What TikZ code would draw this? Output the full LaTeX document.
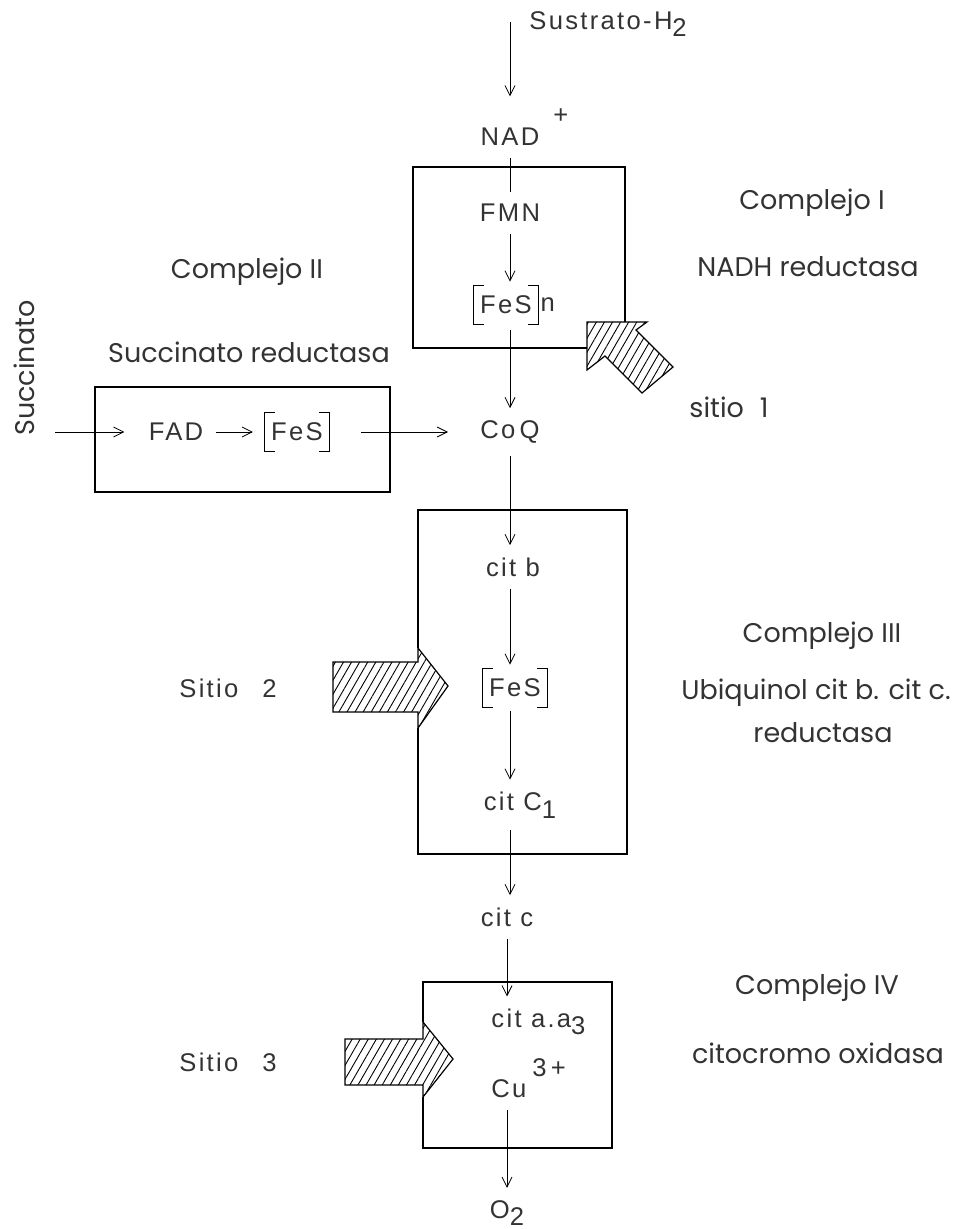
\documentclass[tikz,border=0pt]{standalone}
\usepackage{fontspec}
\setmainfont{Poppins}
\newfontfamily\lettering[LetterSpace=9]{Liberation Sans}
\usetikzlibrary{arrows.meta,patterns.meta}

\newcommand*{\colx}{510}
\newcommand*{\lowidx}[1]{\raisebox{-0.55ex}{#1}}
\newcommand*{\highidx}[1]{\rlap{\raisebox{1.6ex}{#1}}}
\newcommand*{\fesbrackets}[1]{%
	\draw[thin] ([xshift=5pt]#1.north west) -| (#1.south west) -- ++(10,0);
	\draw[thin] ([xshift=-5pt]#1.north east) -| (#1.south east) -- ++(-10,0);
}

\begin{document}
\begin{tikzpicture}
[
	x=0.5pt,
	y=-0.5pt,
	>={Straight Barb[length=5pt,width=5pt]},
	flow/.style={->,thin,shorten >=2pt,shorten <=2pt},
	compl/.style={font=\fontsize{13.5}{16}\selectfont,text=black!80,inner sep=0pt},
	chem/.style={font=\lettering\fontsize{12.8}{15}\selectfont,text=black!80,inner sep=4pt},
	fesbox/.style={chem,minimum height=19pt,inner xsep=3pt},
	box/.style={line width=0.9pt},
	sitearrow/.style={draw,line width=0.6pt,pattern={Lines[angle=60,distance=3.5pt,line width=0.45pt]}}
]

	\useasboundingbox (0,0) rectangle (968,1229);

	% main chain
	\coordinate (start) at (\colx,22);
	\node[chem,anchor=west] (sus) at (521,24) {Sustrato-H\lowidx{2}};
	\node[chem] (nad) at (\colx,127) {NAD\highidx{\hspace{7pt}+}};
	\node[chem] (fmn) at (\colx,213) {FMN};
	\node[fesbox,label={[chem,inner sep=1pt]right:n}] (fesn) at (\colx-4,305) {FeS};
	\node[chem] (coq) at (\colx,432) {Co\,Q};
	\node[chem] (citb) at (\colx+3,567) {cit b};
	\node[fesbox] (fes3) at (\colx+5,688) {FeS};
	\node[chem] (citc1) at (\colx+10,805) {cit C\lowidx{1}};
	\node[chem] (citc) at (\colx-3,917) {cit c};
	\node[chem,anchor=west] (citaa) at (483,1022) {cit a.a\lowidx{3}};
	\node[chem,anchor=west] (cu) at (483,1078) {Cu\highidx{\hspace{3pt}3\,+}};
	\node[chem] (o2) at (\colx-3,1213) {O\lowidx{2}};

	% succinate branch
	\coordinate (succ) at (55,432);
	\node[compl,rotate=90] (succlab) at (24,368) {Succinato};
	\node[chem] (fad) at (176,432) {FAD};
	\node[fesbox] (fes2) at (297,432) {FeS};

	\fesbrackets{fesn}
	\fesbrackets{fes2}
	\fesbrackets{fes3}

	% arrows
	\draw[flow,shorten <=0pt] (start) -- (nad.north);
	\draw[thin,shorten <=2pt,shorten >=2pt] (nad.south) -- (fmn.north);
	\draw[flow] (fmn.south) -- (fmn |- fesn.north);
	\draw[flow,shorten <=3pt] (fmn |- fesn.south) -- (fmn |- coq.north);
	\draw[flow] (coq.south) -- (coq |- citb.north);
	\draw[flow] (coq |- citb.south) -- (coq |- fes3.north);
	\draw[flow] (coq |- fes3.south) -- (coq |- citc1.north);
	\draw[flow] (coq |- citc1.south) -- (coq |- citc.north);
	\draw[flow] (citc.south) -- (citc |- citaa.north);
	\draw[flow] (citc |- cu.south) -- (o2);
	\draw[flow,shorten <=0pt,shorten >=8pt] (succ) -- (fad);
	\draw[flow,shorten >=6pt] (fad) -- (fes2);
	\draw[flow,shorten <=16pt,shorten >=12pt] (fes2) -- (coq);

	% boxes
	\draw[box] (587,348) -| (413,167) -| (625,322);
	\draw[box] (95,387) rectangle (390,492);
	\draw[box] (418,648) |- (627,510) |- (418,854) -- (418,728);
	\draw[box] (423,1022) |- (612,982) |- (423,1148) -- (423,1097);

	% sites
	\draw[sitearrow] (587,322) -- (647,322) -- (636,330) -- (673,367)
	  -- (642,393) -- (605,356) -- (587,370) -- cycle;
	\draw[sitearrow] (333,662) -- (418,662) -- (418,648) -- (448,686)
	  -- (418,728) -- (418,712) -- (333,712) -- cycle;
	\draw[sitearrow] (345,1039) -- (423,1039) -- (423,1022) -- (453,1059)
	  -- (423,1097) -- (423,1085) -- (345,1085) -- cycle;

	% labels
	\node[compl] (c1) at (812,203) {Complejo I};
	\node[compl] (c1name) at (808,267) {NADH reductasa};
	\node[compl] (c2) at (247,272) {Complejo II};
	\node[compl] (c2name) at (249,352) {Succinato reductasa};
	\node[compl] (site1) at (729,407) {sitio\hspace{8pt}1};
	\node[compl] (c3) at (822,636) {Complejo III};
	\node[compl] (c3name) at (816,693) {Ubiquinol cit b. cit c.};
	\node[compl] (c3name2) at (823,733) {reductasa};
	\node[chem] (site2) at (228,688) {Sitio\hspace{12pt}2};
	\node[compl] (c4) at (817,988) {Complejo IV};
	\node[compl] (c4name) at (818,1053) {citocromo oxidasa};
	\node[chem] (site3) at (228,1062) {Sitio\hspace{12pt}3};

\end{tikzpicture}
\end{document}
